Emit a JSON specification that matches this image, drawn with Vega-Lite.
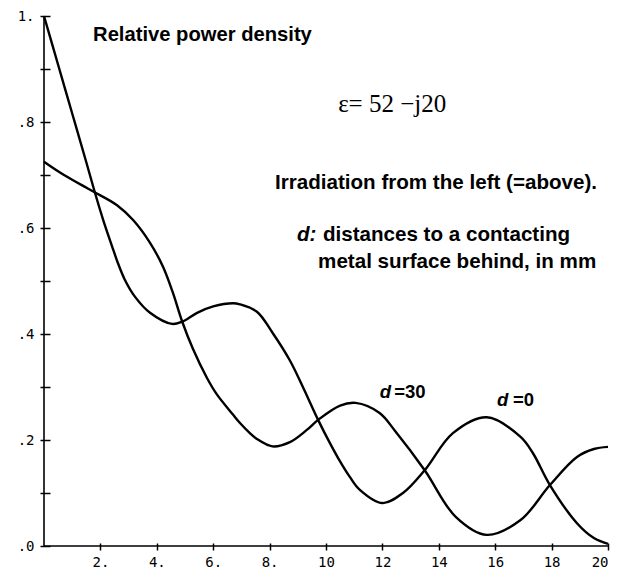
{
  "$schema": "https://vega.github.io/schema/vega-lite/v6.json",
  "width": 564,
  "height": 530,
  "autosize": "none",
  "padding": {"left": 44, "top": 16, "right": 21, "bottom": 23},
  "background": "white",
  "data": {"values": [{}]},
  "config": {
    "view": {"stroke": null},
    "axis": {"grid": false, "domain": false, "labelColor": "black", "tickColor": "black", "tickWidth": 1.5},
    "text": {"color": "black", "align": "left", "baseline": "middle", "font": "Liberation Sans", "fontWeight": "bold", "fontSize": 20.6}
  },
  "datasets": {
    "power": [
      {"d": "0", "depth": 0, "rel": 1.0},
      {"d": "0", "depth": 0.5, "rel": 0.908},
      {"d": "0", "depth": 1.0, "rel": 0.816},
      {"d": "0", "depth": 1.5, "rel": 0.724},
      {"d": "0", "depth": 1.81, "rel": 0.666},
      {"d": "0", "depth": 2.1, "rel": 0.615},
      {"d": "0", "depth": 2.41, "rel": 0.566},
      {"d": "0", "depth": 2.62, "rel": 0.534},
      {"d": "0", "depth": 2.87, "rel": 0.502},
      {"d": "0", "depth": 3.23, "rel": 0.47},
      {"d": "0", "depth": 3.76, "rel": 0.44},
      {"d": "0", "depth": 4.54, "rel": 0.419},
      {"d": "0", "depth": 4.89, "rel": 0.423},
      {"d": "0", "depth": 5.43, "rel": 0.44},
      {"d": "0", "depth": 6.0, "rel": 0.452},
      {"d": "0", "depth": 6.7, "rel": 0.458},
      {"d": "0", "depth": 6.95, "rel": 0.456},
      {"d": "0", "depth": 7.55, "rel": 0.442},
      {"d": "0", "depth": 8.12, "rel": 0.401},
      {"d": "0", "depth": 8.72, "rel": 0.35},
      {"d": "0", "depth": 9.18, "rel": 0.3},
      {"d": "0", "depth": 9.72, "rel": 0.238},
      {"d": "0", "depth": 10.14, "rel": 0.194},
      {"d": "0", "depth": 10.43, "rel": 0.166},
      {"d": "0", "depth": 10.85, "rel": 0.13},
      {"d": "0", "depth": 11.2, "rel": 0.106},
      {"d": "0", "depth": 12.0, "rel": 0.081},
      {"d": "0", "depth": 12.73, "rel": 0.1},
      {"d": "0", "depth": 13.5, "rel": 0.143},
      {"d": "0", "depth": 14.5, "rel": 0.213},
      {"d": "0", "depth": 15.7, "rel": 0.243},
      {"d": "0", "depth": 16.9, "rel": 0.206},
      {"d": "0", "depth": 17.34, "rel": 0.175},
      {"d": "0", "depth": 17.94, "rel": 0.115},
      {"d": "0", "depth": 18.9, "rel": 0.043},
      {"d": "0", "depth": 19.5, "rel": 0.015},
      {"d": "0", "depth": 20, "rel": 0.004},
      {"d": "30", "depth": 0, "rel": 0.725},
      {"d": "30", "depth": 0.5, "rel": 0.707},
      {"d": "30", "depth": 1.0, "rel": 0.691},
      {"d": "30", "depth": 1.4, "rel": 0.679},
      {"d": "30", "depth": 1.81, "rel": 0.667},
      {"d": "30", "depth": 2.59, "rel": 0.643},
      {"d": "30", "depth": 3.16, "rel": 0.615},
      {"d": "30", "depth": 3.76, "rel": 0.572},
      {"d": "30", "depth": 4.22, "rel": 0.527},
      {"d": "30", "depth": 4.57, "rel": 0.478},
      {"d": "30", "depth": 4.89, "rel": 0.425},
      {"d": "30", "depth": 5.28, "rel": 0.372},
      {"d": "30", "depth": 5.78, "rel": 0.317},
      {"d": "30", "depth": 6.13, "rel": 0.286},
      {"d": "30", "depth": 6.7, "rel": 0.248},
      {"d": "30", "depth": 6.95, "rel": 0.232},
      {"d": "30", "depth": 7.3, "rel": 0.213},
      {"d": "30", "depth": 7.55, "rel": 0.202},
      {"d": "30", "depth": 8.1, "rel": 0.188},
      {"d": "30", "depth": 8.72, "rel": 0.196},
      {"d": "30", "depth": 9.32, "rel": 0.219},
      {"d": "30", "depth": 9.72, "rel": 0.238},
      {"d": "30", "depth": 10.5, "rel": 0.265},
      {"d": "30", "depth": 11.05, "rel": 0.27},
      {"d": "30", "depth": 11.9, "rel": 0.251},
      {"d": "30", "depth": 12.45, "rel": 0.217},
      {"d": "30", "depth": 13.5, "rel": 0.143},
      {"d": "30", "depth": 14.6, "rel": 0.055},
      {"d": "30", "depth": 15.7, "rel": 0.021},
      {"d": "30", "depth": 16.9, "rel": 0.049},
      {"d": "30", "depth": 17.94, "rel": 0.115},
      {"d": "30", "depth": 18.9, "rel": 0.168},
      {"d": "30", "depth": 19.5, "rel": 0.183},
      {"d": "30", "depth": 20, "rel": 0.187}
    ]
  },
  "layer": [
    {
      "data": {"name": "power"},
      "mark": {"type": "line", "color": "black", "strokeWidth": 2.4, "interpolate": "catmull-rom"},
      "encoding": {
        "x": {
          "field": "depth", "type": "quantitative", "title": null,
          "scale": {"domain": [0, 20], "nice": false, "zero": false},
          "axis": {
            "values": [2, 4, 6, 8, 10, 12, 14, 16, 18, 20],
            "labelExpr": "datum.value < 10 ? datum.value + '.' : '' + datum.value",
            "offset": -3, "tickSize": 7, "labelPadding": 5,
            "labelFont": "DejaVu Sans Mono", "labelFontSize": 14
          }
        },
        "y": {
          "field": "rel", "type": "quantitative", "title": null,
          "scale": {"domain": [0, 1], "nice": false},
          "axis": {
            "values": [0, 0.1, 0.2, 0.3, 0.4, 0.5, 0.6, 0.7, 0.8, 0.9, 1],
            "labelExpr": "datum.value == 1 ? '1.' : (round(datum.value * 10) % 2 == 0 ? '.' + round(datum.value * 10) : '')",
            "offset": -6, "tickSize": 10, "labelPadding": 6,
            "labelFont": "DejaVu Sans Mono", "labelFontSize": 14
          }
        },
        "detail": {"field": "d"}
      }
    },
    {
      "mark": {"type": "rule", "color": "black", "strokeWidth": 1.6},
      "encoding": {"y": {"datum": 0, "type": "quantitative", "title": null}}
    },
    {
      "mark": {"type": "rule", "color": "black", "strokeWidth": 1.6},
      "encoding": {"x": {"datum": 0, "type": "quantitative", "title": null}}
    },
    {
      "mark": {"type": "text", "text": "Relative power density", "fontSize": 20.2},
      "encoding": {"x": {"datum": 1.74, "type": "quantitative", "title": null}, "y": {"datum": 0.964, "type": "quantitative", "title": null}}
    },
    {
      "mark": {"type": "text", "text": "ε= 52 −j20", "font": "Liberation Serif", "fontWeight": "normal", "fontSize": 25},
      "encoding": {"x": {"datum": 10.43, "type": "quantitative", "title": null}, "y": {"datum": 0.834, "type": "quantitative", "title": null}}
    },
    {
      "mark": {"type": "text", "text": "Irradiation from the left (=above)."},
      "encoding": {"x": {"datum": 8.19, "type": "quantitative", "title": null}, "y": {"datum": 0.685, "type": "quantitative", "title": null}}
    },
    {
      "mark": {"type": "text", "text": "d:", "fontStyle": "italic"},
      "encoding": {"x": {"datum": 8.97, "type": "quantitative", "title": null}, "y": {"datum": 0.587, "type": "quantitative", "title": null}}
    },
    {
      "mark": {"type": "text", "text": "distances to a contacting"},
      "encoding": {"x": {"datum": 9.89, "type": "quantitative", "title": null}, "y": {"datum": 0.587, "type": "quantitative", "title": null}}
    },
    {
      "mark": {"type": "text", "text": "metal surface behind, in mm"},
      "encoding": {"x": {"datum": 9.72, "type": "quantitative", "title": null}, "y": {"datum": 0.536, "type": "quantitative", "title": null}}
    },
    {
      "mark": {"type": "text", "text": "d", "fontStyle": "italic", "fontSize": 18.5},
      "encoding": {"x": {"datum": 11.91, "type": "quantitative", "title": null}, "y": {"datum": 0.291, "type": "quantitative", "title": null}}
    },
    {
      "mark": {"type": "text", "text": "=30", "fontSize": 18.5},
      "encoding": {"x": {"datum": 12.42, "type": "quantitative", "title": null}, "y": {"datum": 0.291, "type": "quantitative", "title": null}}
    },
    {
      "mark": {"type": "text", "text": "d", "fontStyle": "italic", "fontSize": 18.5},
      "encoding": {"x": {"datum": 16.06, "type": "quantitative", "title": null}, "y": {"datum": 0.276, "type": "quantitative", "title": null}}
    },
    {
      "mark": {"type": "text", "text": "=0", "fontSize": 18.5},
      "encoding": {"x": {"datum": 16.63, "type": "quantitative", "title": null}, "y": {"datum": 0.276, "type": "quantitative", "title": null}}
    }
  ]
}
